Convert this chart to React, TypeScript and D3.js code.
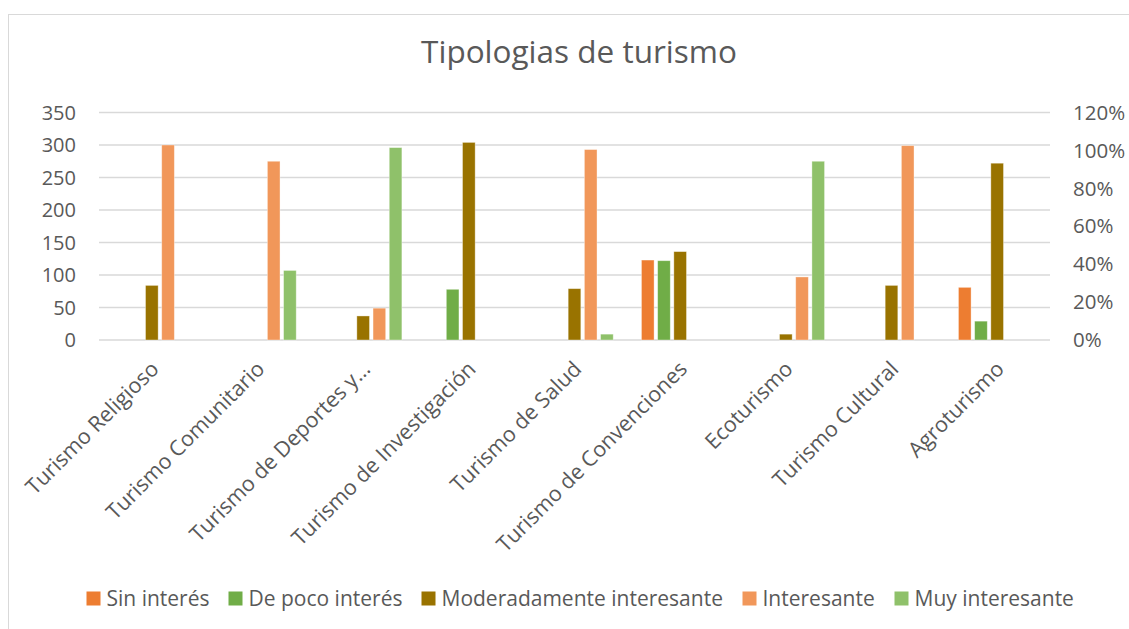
import React from "react";
import * as d3 from "d3";

const categories = [
  "Turismo Religioso",
  "Turismo Comunitario",
  "Turismo de Deportes y…",
  "Turismo de Investigación",
  "Turismo de Salud",
  "Turismo de Convenciones",
  "Ecoturismo",
  "Turismo Cultural",
  "Agroturismo",
];

const seriesNames = [
  "Sin interés",
  "De poco interés",
  "Moderadamente interesante",
  "Interesante",
  "Muy interesante",
];

const seriesColors = ["#ED7D31", "#70AD47", "#997300", "#F1975A", "#8FC16A"];

// values per series, one per category (0 = no bar)
const sinInteres = [0, 0, 0, 0, 0, 123, 0, 0, 81];
const dePocoInteres = [0, 0, 0, 78, 0, 122, 0, 0, 29];
const moderadamente = [84, 0, 37, 304, 79, 136, 9, 84, 272];
const interesante = [300, 275, 49, 0, 293, 0, 97, 299, 0];
const muyInteresante = [0, 107, 296, 0, 9, 0, 275, 0, 0];

const seriesValues = [sinInteres, dePocoInteres, moderadamente, interesante, muyInteresante];

const leftTicks = [0, 50, 100, 150, 200, 250, 300, 350];
const rightTicks = [0, 0.2, 0.4, 0.6, 0.8, 1.0, 1.2];

const W = 1129;
const H = 629;
const plotLeft = 99;
const plotRight = 1050;
const plotTop = 112.5;
const plotBottom = 340;

const FONT = "'Open Sans', 'Noto Sans', sans-serif";
const TEXT = "#595959";

export default function App() {
  const x0 = d3.scaleBand<string>().domain(categories).range([plotLeft, plotRight]).padding(0);
  const x1 = d3
    .scaleBand<string>()
    .domain(seriesNames)
    .range([-40.5, 40.5])
    .paddingInner(0.22)
    .paddingOuter(0.11);
  const y = d3.scaleLinear().domain([0, 350]).range([plotBottom, plotTop]);
  const y2 = d3.scaleLinear().domain([0, 1.2]).range([plotBottom, plotTop]);
  const pct = d3.format(".0%");

  // legend layout
  const legendWidths = [101, 152, 280, 111, 159];
  const sq = 14;
  const sqGap = 6;
  const itemGap = 21;
  const total =
    legendWidths.reduce((a, b) => a + b, 0) + seriesNames.length * (sq + sqGap) + (seriesNames.length - 1) * itemGap;
  let lx = 580 - total / 2;
  const legendItems = seriesNames.map((n, i) => {
    const item = { name: n, x: lx, color: seriesColors[i] };
    lx += sq + sqGap + legendWidths[i] + itemGap;
    return item;
  });

  return (
    <svg
      width={W}
      height={H}
      style={{ position: "absolute", left: 0, top: 0, background: "#fff" }}
      fontFamily={FONT}
    >
      <rect x={8.5} y={14.5} width={1140} height={640} fill="#fff" stroke="#d9d9d9" strokeWidth={1} />
      <text x={579} y={63} textAnchor="middle" fontSize={31.5} fill={TEXT}>
        Tipologias de turismo
      </text>

      {leftTicks.map((t) => (
        <line
          key={"g" + t}
          x1={plotLeft}
          x2={plotRight}
          y1={y(t)}
          y2={y(t)}
          stroke="#d9d9d9"
          strokeWidth={1.3}
        />
      ))}

      {leftTicks.map((t) => (
        <text key={"l" + t} x={76} y={y(t)} dy="0.35em" textAnchor="end" fontSize={20} fill={TEXT}>
          {t}
        </text>
      ))}
      {rightTicks.map((t) => (
        <text key={"r" + t} x={1073} y={y2(t)} dy="0.35em" textAnchor="start" fontSize={20.5} fill={TEXT}>
          {pct(t)}
        </text>
      ))}

      {categories.map((c, ci) => {
        const cx = (x0(c) as number) + x0.bandwidth() / 2;
        return (
          <g key={c}>
            {seriesNames.map((s, si) => {
              const v = seriesValues[si][ci];
              if (!v) return null;
              return (
                <rect
                  key={s}
                  x={cx + (x1(s) as number)}
                  y={y(v)}
                  width={x1.bandwidth()}
                  height={y(0) - y(v)}
                  fill={seriesColors[si]}
                  stroke="#ffffff"
                  strokeOpacity={0.45}
                  strokeWidth={0.8}
                />
              );
            })}
          </g>
        );
      })}

      {categories.map((c) => {
        const cx = (x0(c) as number) + x0.bandwidth() / 2;
        return (
          <text
            key={"c" + c}
            transform={`translate(${cx + 3},${365}) rotate(-45)`}
            textAnchor="end"
            dy="0.35em"
            fontSize={21.5}
            fill={TEXT}
          >
            {c}
          </text>
        );
      })}

      {legendItems.map((it) => (
        <g key={it.name}>
          <rect x={it.x} y={591.5} width={sq} height={sq} fill={it.color} />
          <text x={it.x + sq + sqGap} y={598.5} dy="0.35em" fontSize={21} fill={TEXT}>
            {it.name}
          </text>
        </g>
      ))}
    </svg>
  );
}
